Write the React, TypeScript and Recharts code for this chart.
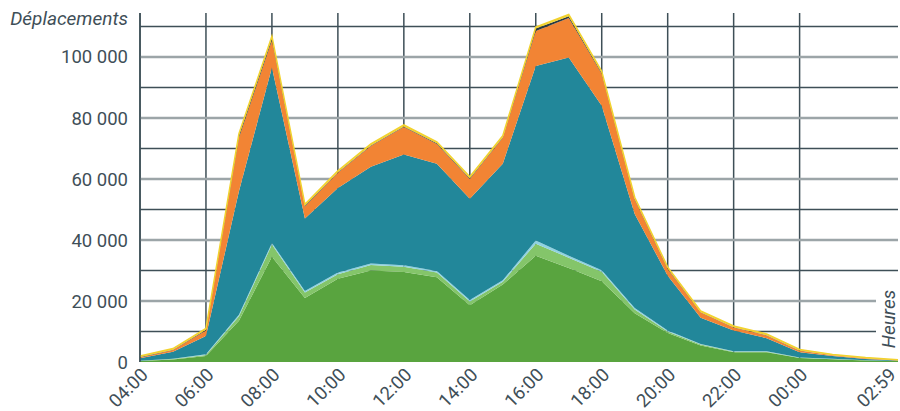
import { AreaChart, Area, XAxis, YAxis, CartesianGrid } from "recharts";

const hours = [
  "04:00", "05:00", "06:00", "07:00", "08:00", "09:00", "10:00", "11:00",
  "12:00", "13:00", "14:00", "15:00", "16:00", "17:00", "18:00", "19:00",
  "20:00", "21:00", "22:00", "23:00", "00:00", "01:00", "02:00", "02:59",
];

const tickLabels = [
  "04:00", "06:00", "08:00", "10:00", "12:00", "14:00", "16:00", "18:00",
  "20:00", "22:00", "00:00", "02:59",
];

// stacked layers, bottom to top
const darkGreen = [300, 800, 2000, 13500, 34500, 21000, 27300, 30000, 29500, 27800, 18600, 25400, 34800, 30800, 26500, 16000, 9500, 5400, 3200, 3200, 1300, 900, 500, 300];
const lightGreen = [100, 200, 300, 1500, 4000, 1800, 1500, 1800, 1700, 1500, 1200, 900, 4000, 3400, 3100, 1200, 500, 300, 200, 200, 100, 100, 50, 20];
const lightBlue = [50, 100, 200, 500, 500, 500, 500, 500, 500, 500, 500, 500, 1000, 600, 500, 500, 300, 200, 100, 100, 50, 50, 30, 20];
const teal = [750, 2300, 6000, 40500, 57500, 23700, 27700, 31700, 36300, 35200, 33200, 38200, 57200, 65000, 53900, 30800, 18000, 8600, 6800, 4300, 1750, 950, 420, 160];
const orange = [300, 500, 1800, 17500, 9000, 4000, 5000, 6800, 9000, 6500, 6500, 8500, 11500, 13000, 10500, 4800, 2200, 1700, 1000, 900, 500, 200, 200, 50];
const black = [100, 100, 300, 800, 700, 200, 200, 200, 200, 200, 200, 200, 800, 500, 300, 200, 200, 100, 100, 100, 100, 50, 50, 30];
const yellow = [400, 400, 400, 500, 600, 500, 500, 500, 500, 500, 500, 500, 500, 600, 500, 500, 400, 400, 400, 400, 300, 250, 200, 170];

const yTicks = [0, 20000, 40000, 60000, 80000, 100000];

const toPos = (label: string) => {
  const [h, m] = label.split(":").map(Number);
  return (h < 4 ? h + 24 : h) + m / 60;
};

const data = hours.map((label, i) => ({
  t: toPos(label),
  darkGreen: darkGreen[i],
  lightGreen: lightGreen[i],
  lightBlue: lightBlue[i],
  teal: teal[i],
  orange: orange[i],
  black: black[i],
  yellow: yellow[i],
}));

const layers = [
  { key: "darkGreen", color: "#59a43f", line: 0 },
  { key: "lightGreen", color: "#84c56a", line: 0 },
  { key: "lightBlue", color: "#8fd2e2", line: 0 },
  { key: "teal", color: "#22879a", line: 0 },
  { key: "orange", color: "#f28434", line: 0 },
  { key: "black", color: "#2b3a40", line: 0 },
  { key: "yellow", color: "#f2d22e", line: 1.5 },
];

const textColor = "#3f4f58";
const font = "Roboto, sans-serif";

const XTick = ({ x, y, payload }: any) => {
  const label = tickLabels[payload.index] ?? "";
  const tx = Math.min(x + 9, 897);
  return (
    <g transform={`translate(${tx},${y + 14}) rotate(-45)`}>
      <text x={0} y={0} textAnchor="end" fill={textColor} fontSize={18.5} fontFamily={font}>
        {label}
      </text>
    </g>
  );
};

export default function App() {
  const ticks = tickLabels.map(toPos);
  return (
    <div style={{ position: "absolute", left: 0, top: 0, width: 900, height: 411, background: "#fff", fontFamily: font }}>
      <AreaChart width={900} height={411} data={data} margin={{ top: 13, right: 2, left: 0, bottom: 0 }}>
        <CartesianGrid
          stroke="#3e4f57"
          strokeWidth={1.5}
          horizontalValues={[10000, 30000, 50000, 70000, 90000, 110000]}
          verticalValues={[4, 6, 8, 10, 12, 14, 16, 18, 20, 22, 24]}
        />
        <CartesianGrid
          stroke="#9ca5a8"
          strokeWidth={2.5}
          vertical={false}
          horizontalValues={[20000, 40000, 60000, 80000, 100000]}
        />
        <XAxis
          type="number"
          dataKey="t"
          domain={[4, toPos("02:59")]}
          ticks={ticks}
          interval={0}
          height={49}
          axisLine={false}
          tickLine={false}
          tickSize={0}
          tickMargin={0}
          tick={<XTick />}
        />
        <YAxis
          width={140}
          domain={[0, 114400]}
          ticks={yTicks}
          interval={0}
          axisLine={{ stroke: "#3e4f57", strokeWidth: 1.5 }}
          tickLine={false}
          tickSize={0}
          tickMargin={12}
          tick={{ fill: textColor, fontSize: 18.5, fontFamily: font }}
          tickFormatter={(v: number) => v.toLocaleString("fr-FR").replace(/\s/g, " ")}
        />
        {layers.map((l) => (
          <Area
            key={l.key}
            type="linear"
            dataKey={l.key}
            stackId="a"
            stroke={l.line ? l.color : "none"}
            strokeWidth={l.line}
            fill={l.color}
            fillOpacity={1}
            isAnimationActive={false}
          />
        ))}
      </AreaChart>
      <div
        style={{
          position: "absolute",
          right: 772,
          top: 7,
          fontSize: 19,
          fontStyle: "italic",
          color: textColor,
          whiteSpace: "nowrap",
        }}
      >
        Déplacements
      </div>
      <div
        style={{
          position: "absolute",
          left: 876,
          top: 284,
          width: 24,
          height: 70,
          background: "#fff",
        }}
      />
      <div
        style={{
          position: "absolute",
          left: 888,
          top: 319,
          transform: "translate(-50%, -50%) rotate(-90deg)",
          fontSize: 19,
          fontStyle: "italic",
          color: textColor,
          whiteSpace: "nowrap",
        }}
      >
        Heures
      </div>
    </div>
  );
}
